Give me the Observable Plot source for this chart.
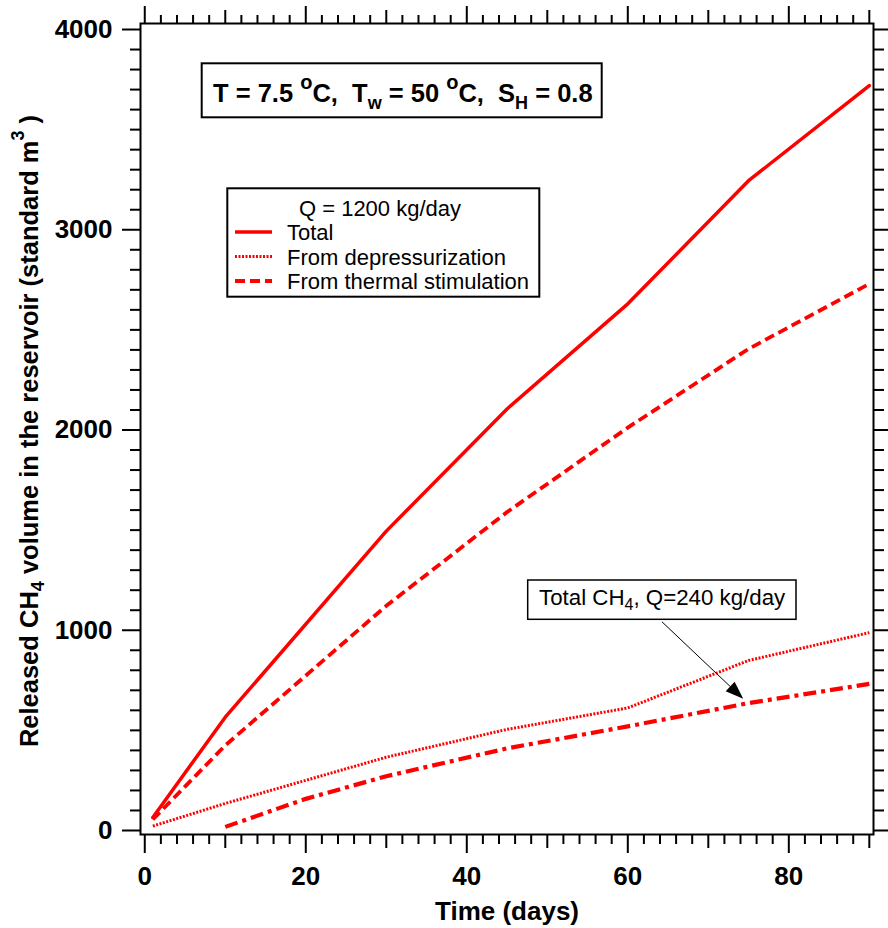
<!DOCTYPE html>
<html><head><meta charset="utf-8">
<script src="https://cdn.jsdelivr.net/npm/d3@7"></script>
<script src="https://cdn.jsdelivr.net/npm/@observablehq/plot@0.6"></script>
<style>
html,body{margin:0;padding:0;background:#fff;}
#chart{width:888px;height:928px;}
</style>
</head><body><div id="chart"></div>
<script>
// ---- data ----
const days = [1, 10, 30, 45, 60, 75, 90];
const totalQ1200 = [65, 566, 1495, 2105, 2630, 3245, 3720];
const depressQ1200 = [22, 135, 366, 505, 612, 849, 988];
const thermalQ1200 = [55, 425, 1122, 1590, 2012, 2405, 2730];
const daysQ240 = [10, 20, 30, 45, 60, 75, 90];
const totalQ240 = [18, 158, 271, 410, 520, 636, 732];

// ---- ticks ----
const xMajorTicks = [0, 20, 40, 60, 80];
const xMidTicks = [10, 30, 50, 70, 90];
const xMinorTicks = d3.range(0, 91, 2).filter(d => d % 10 !== 0);
const yMajorTicks = [0, 1000, 2000, 3000, 4000];
const yMinorTicks = d3.range(0, 4001, 100).filter(d => d % 1000 !== 0);

// ---- texts ----
const xTitle = "Time (days)";
const legendTitle = "Q = 1200 kg/day";
const legendLabels = ["Total", "From depressurization", "From thermal stimulation"];
const annotationTip = [74.4, 655];   // arrow tip (day, m3)
const annotationTail = [64.3, 1040]; // arrow tail (day, m3)

const RED = "#ff0000";
const FONT = "'Liberation Sans', Arial, Helvetica, sans-serif";
const DASH = {total: null, depress: "2,1.5", thermal: "10,5", q240: "13,5,4,5"};
const WIDTH = {total: 3.5, depress: 3, thermal: 3.8, q240: 4.2};

const toRows = (xs, ys) => xs.map((d, i) => ({day: d, v: ys[i]}));

const bold = {fontSize: 26, fontWeight: "bold", fontFamily: FONT};
const plain = d => String(d);

const chart = Plot.plot({
  width: 888,
  height: 928,
  marginLeft: 140,
  marginRight: 15,
  marginTop: 23,
  marginBottom: 94,
  style: {fontFamily: FONT, background: "#fff", color: "#000"},
  x: {domain: [-0.53, 90.52]},
  y: {domain: [-20, 4030]},
  marks: [
    Plot.line(toRows(days, thermalQ1200), {x: "day", y: "v", stroke: RED, strokeWidth: WIDTH.thermal, strokeDasharray: DASH.thermal, strokeLinecap: "butt"}),
    Plot.line(toRows(days, depressQ1200), {x: "day", y: "v", stroke: RED, strokeWidth: WIDTH.depress, strokeDasharray: DASH.depress, strokeLinecap: "butt"}),
    Plot.line(toRows(daysQ240, totalQ240), {x: "day", y: "v", stroke: RED, strokeWidth: WIDTH.q240, strokeDasharray: DASH.q240, strokeLinecap: "butt"}),
    Plot.line(toRows(days, totalQ1200), {x: "day", y: "v", stroke: RED, strokeWidth: WIDTH.total}),
    // bottom axis
    Plot.axisX(xMajorTicks, {anchor: "bottom", tickSize: 19, tickPadding: 13, strokeWidth: 2, label: null, tickFormat: plain, ...bold}),
    Plot.axisX(xMidTicks, {anchor: "bottom", tickSize: 14, strokeWidth: 2, label: null, tickFormat: () => ""}),
    Plot.axisX(xMinorTicks, {anchor: "bottom", tickSize: 10, strokeWidth: 2, label: null, tickFormat: () => ""}),
    // top axis
    Plot.axisX(xMajorTicks, {anchor: "top", tickSize: 18, strokeWidth: 2, label: null, tickFormat: () => ""}),
    Plot.axisX(xMidTicks, {anchor: "top", tickSize: 14, strokeWidth: 2, label: null, tickFormat: () => ""}),
    Plot.axisX(xMinorTicks, {anchor: "top", tickSize: 9, strokeWidth: 2, label: null, tickFormat: () => ""}),
    // left axis
    Plot.axisY(yMajorTicks, {anchor: "left", tickSize: 18, tickPadding: 10, strokeWidth: 2, label: null, tickFormat: plain, ...bold}),
    Plot.axisY(yMinorTicks, {anchor: "left", tickSize: 10, strokeWidth: 2, label: null, tickFormat: () => ""}),
    // right axis
    Plot.axisY(yMajorTicks, {anchor: "right", tickSize: 15, strokeWidth: 2, label: null, tickFormat: () => ""}),
    Plot.axisY(yMinorTicks, {anchor: "right", tickSize: 10, strokeWidth: 2, label: null, tickFormat: () => ""}),
    Plot.frame({stroke: "#000", strokeWidth: 2}),
    Plot.text([xTitle], {frameAnchor: "bottom", dy: 85, ...bold})
  ]
});

document.getElementById("chart").appendChild(chart);

// ---- overlays: rich text, legend, annotation ----
const svg = d3.select(chart);
const sx = chart.scale("x").apply, sy = chart.scale("y").apply;

function richText(parent, x, y, parts, attrs) {
  const t = parent.append("text").attr("x", x).attr("y", y)
    .attr("text-anchor", "start").style("white-space", "pre");
  for (const k in attrs) t.attr(k, attrs[k]);
  let prev = 0;
  for (const [s, shift = 0, size = null] of parts) {
    const ts = t.append("tspan").attr("dy", shift - prev).text(s);
    if (size) ts.attr("font-size", size);
    prev = shift;
  }
  return t;
}

const ov = svg.append("g").attr("font-family", FONT).attr("fill", "#000").attr("text-anchor", "start");

// y title
const yTitle = ov.append("g").attr("transform", "translate(38,431) rotate(-90)");
richText(yTitle, 0, 0, [
  ["Released CH"], ["4", 6, 18], [" volume in the reservoir (standard m"], ["3", -14, 18], [" )"]
], {"text-anchor": "middle", "font-size": 25.5, "font-weight": "bold"});

// parameter box
ov.append("rect").attr("x", 201.7).attr("y", 63.3).attr("width", 400).attr("height", 54)
  .attr("fill", "#fff").attr("stroke", "#000").attr("stroke-width", 2);
richText(ov, 213, 101.7, [
  ["T = 7.5 "], ["o", -13, 20], ["C,  T"], ["w", 7, 18], [" = 50 "], ["o", -13, 20], ["C,  S"], ["H", 7, 18], [" = 0.8"]
], {"font-size": 25.5, "font-weight": "bold"});

// legend
const lg = ov.append("g");
lg.append("rect").attr("x", 227.3).attr("y", 188.3).attr("width", 312).attr("height", 108.4)
  .attr("fill", "#fff").attr("stroke", "#000").attr("stroke-width", 2);
lg.append("text").attr("x", 380).attr("y", 216).attr("text-anchor", "middle").attr("font-size", 22).text(legendTitle);
const legendKeys = ["total", "depress", "thermal"];
legendLabels.forEach((lab, i) => {
  const yc = 232 + i * 24.5;
  lg.append("line").attr("x1", 235).attr("x2", 272).attr("y1", yc).attr("y2", yc)
    .attr("stroke", RED).attr("stroke-width", WIDTH[legendKeys[i]])
    .attr("stroke-dasharray", DASH[legendKeys[i]]);
  lg.append("text").attr("x", 287).attr("y", yc + 8).attr("text-anchor", "start").attr("font-size", 22).text(lab);
});

// annotation
ov.append("rect").attr("x", 527.7).attr("y", 580).attr("width", 268.3).attr("height", 39.3)
  .attr("fill", "#fff").attr("stroke", "#000").attr("stroke-width", 1.5);
richText(ov, 539, 605, [["Total CH"], ["4", 5, 16], [", Q=240 kg/day"]], {"font-size": 22.3});

const x1 = sx(annotationTail[0]), y1 = sy(annotationTail[1]);
const x2 = sx(annotationTip[0]), y2 = sy(annotationTip[1]);
const ang = Math.atan2(y2 - y1, x2 - x1);
const hl = 18, hw = 6.5;
const bx = x2 - hl * Math.cos(ang), by = y2 - hl * Math.sin(ang);
ov.append("line").attr("x1", x1).attr("y1", y1).attr("x2", bx).attr("y2", by)
  .attr("stroke", "#000").attr("stroke-width", 1);
ov.append("path").attr("d", `M${x2},${y2}L${bx + hw * Math.sin(ang)},${by - hw * Math.cos(ang)}L${bx - hw * Math.sin(ang)},${by + hw * Math.cos(ang)}Z`)
  .attr("fill", "#000");
</script>
</body></html>
